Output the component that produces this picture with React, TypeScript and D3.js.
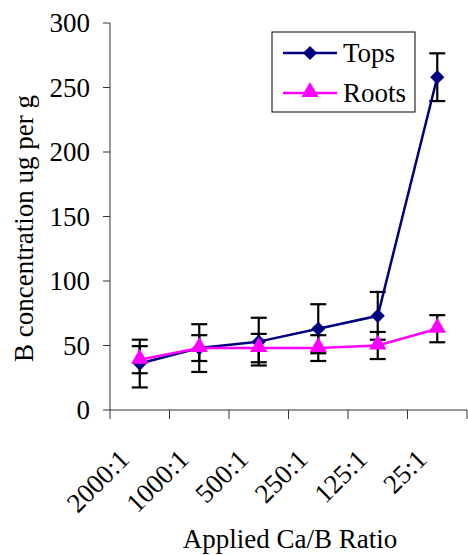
import React from "react";
import * as d3 from "d3";

const categories = ["2000:1", "1000:1", "500:1", "250:1", "125:1", "25:1"];
const topsValues = [36, 48, 53, 63, 73, 258];
const topsErrors = [18.5, 18.5, 18.5, 19, 18.5, 18.5];
const rootsValues = [39, 48, 48, 48, 50, 63];
const rootsErrors = [10.5, 10, 11, 10, 10.5, 10.5];
const yTicks = [0, 50, 100, 150, 200, 250, 300];
const seriesNames = ["Tops", "Roots"];

const W = 468;
const H = 555;
const TS: React.CSSProperties = { fontFamily: "Liberation Serif", fontSize: 27 };

export default function App() {
  const left = 110, right = 467, top = 23, bottom = 410;
  const x = d3.scaleBand<string>().domain(categories).range([left, right]);
  const y = d3.scaleLinear().domain([0, 300]).range([bottom, top]);
  const cx = (c: string) => (x(c) as number) + x.bandwidth() / 2;
  const line = d3.line<number>().x((_, i) => cx(categories[i])).y((d) => y(d));
  const diamond = d3.symbol().type(d3.symbolSquare).size(100)() as string;
  const tri = d3.symbol().type(d3.symbolTriangle).size(130)() as string;
  const tops = "#000080";
  const roots = "#FF00FF";

  const errBars = (vals: number[], errs: number[], key: string) =>
    vals.map((v, i) => {
      const xc = cx(categories[i]);
      const y1 = y(v + errs[i]);
      const y2 = y(v - errs[i]);
      return (
        <g key={key + i} stroke="#000" strokeWidth={2.2}>
          <line x1={xc} x2={xc} y1={y1} y2={y2} />
          <line x1={xc - 8} x2={xc + 8} y1={y1} y2={y1} />
          <line x1={xc - 8} x2={xc + 8} y1={y2} y2={y2} />
        </g>
      );
    });

  const boundaries = [...categories.map((c) => x(c) as number), right];

  return (
    <svg width={W} height={H} style={{ position: "absolute", left: 0, top: 0 }}>
      <rect x={0} y={0} width={W} height={H} fill="#fff" />
      {/* axes */}
      <line x1={left} x2={left} y1={top} y2={bottom} stroke="#333" strokeWidth={1} />
      <line x1={left} x2={right} y1={bottom} y2={bottom} stroke="#333" strokeWidth={1} />
      {yTicks.map((t) => (
        <g key={"yt" + t}>
          <line x1={left - 7} x2={left} y1={y(t)} y2={y(t)} stroke="#333" />
          <text x={90} y={y(t)} dy="0.35em" textAnchor="end" style={TS}>{t}</text>
        </g>
      ))}
      {boundaries.map((b, i) => (
        <line key={"xt" + i} x1={b} x2={b} y1={bottom} y2={bottom + 9} stroke="#333" />
      ))}
      {categories.map((c) => (
        <text key={"xl" + c} transform={`translate(${cx(c) - 9},${461}) rotate(-45)`} textAnchor="end" style={TS}>{c}</text>
      ))}
      <text x={290} y={548} textAnchor="middle" style={TS}>Applied Ca/B Ratio</text>
      <text transform={`translate(33,${(top + bottom) / 2 + 12}) rotate(-90)`} textAnchor="middle" style={TS}>B concentration ug per g</text>

      {/* error bars */}
      {errBars(topsValues, topsErrors, "te")}
      {errBars(rootsValues, rootsErrors, "re")}

      {/* lines */}
      <path d={line(topsValues) as string} fill="none" stroke={tops} strokeWidth={2.5} />
      {topsValues.map((v, i) => (
        <path key={"td" + i} d={diamond} transform={`translate(${cx(categories[i])},${y(v)}) rotate(45)`} fill={tops} />
      ))}
      <path d={line(rootsValues) as string} fill="none" stroke={roots} strokeWidth={2.5} />
      {rootsValues.map((v, i) => (
        <path key={"rt" + i} d={tri} transform={`translate(${cx(categories[i])},${y(v) - 1})`} fill={roots} />
      ))}

      {/* legend */}
      <rect x={272} y={32} width={143} height={80} fill="#fff" stroke="#000" strokeWidth={1} />
      <line x1={283} x2={337} y1={53} y2={53} stroke={tops} strokeWidth={2.5} />
      <path d={diamond} transform="translate(310,53) rotate(45)" fill={tops} />
      <text x={343} y={62} style={TS}>{seriesNames[0]}</text>
      <line x1={283} x2={337} y1={93} y2={93} stroke={roots} strokeWidth={2.5} />
      <path d={tri} transform="translate(310,92)" fill={roots} />
      <text x={343} y={102} style={TS}>{seriesNames[1]}</text>
    </svg>
  );
}
